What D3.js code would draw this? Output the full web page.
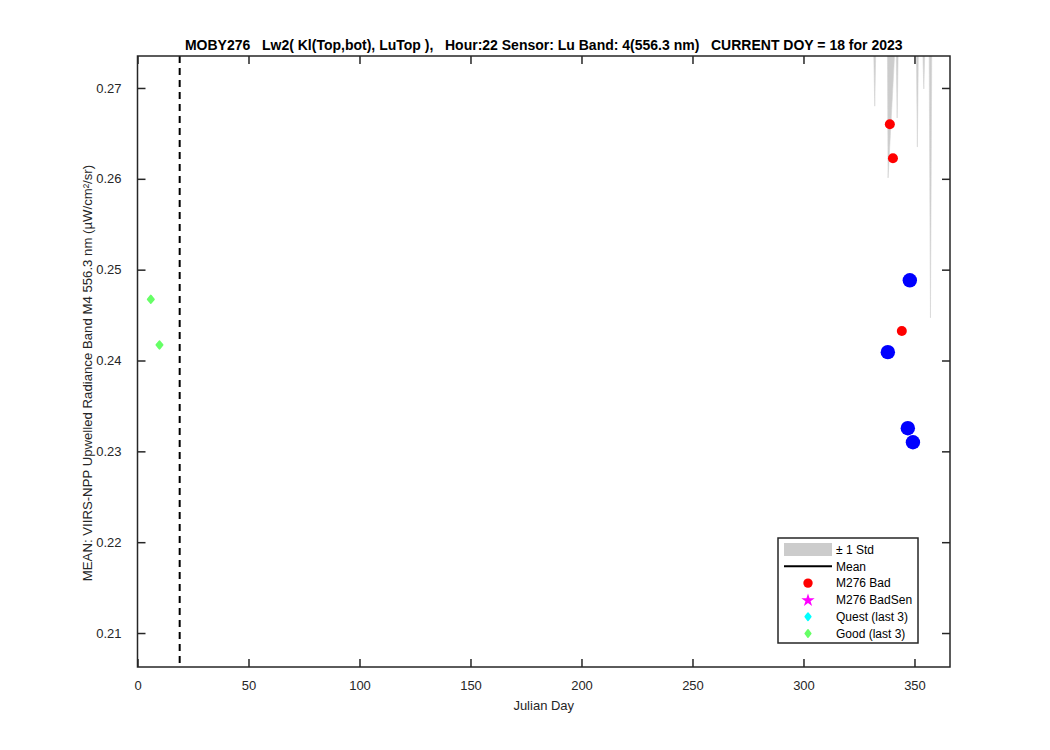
<!DOCTYPE html>
<html><head><meta charset="utf-8">
<script src="https://cdn.jsdelivr.net/npm/d3@7"></script>
<style>
body{margin:0;background:#fff;}
text{font-family:"Liberation Sans",Arial,Helvetica,sans-serif;}
</style>
</head><body>
<svg id="c" width="1050" height="750"></svg>
<script>
// ---------------- data ----------------
const xDomain = [0, 366];
const yDomain = [0.20626, 0.27352];
const xTicks = [0, 50, 100, 150, 200, 250, 300, 350];
const yTicks = [0.21, 0.22, 0.23, 0.24, 0.25, 0.26, 0.27];
const currentDoy = 19;

const badDays = [338.9, 340.3, 344.3];
const badVals = [0.2660, 0.26226, 0.24325];

const blueDays = [347.9, 338.0, 347.0, 349.3];
const blueVals = [0.24883, 0.24092, 0.23255, 0.23100];

const goodDays = [6.0, 9.9];
const goodVals = [0.24674, 0.24171];

// +/- 1 std band (lower edge visible, upper edge beyond the axes)
const stdTip   = [332.1, 338.1, 342.2, 351.3, 354.2, 357.2];
const stdLow   = [0.2680, 0.2601, 0.2667, 0.2635, 0.2699, 0.2447];
const stdLeft  = [331.2, 337.7, 341.4, 350.6, 353.1, 356.5];
const stdRight = [333.0, 342.4, 343.0, 352.0, 355.3, 357.9];
const stdHigh  = 0.28;

const titleText = "MOBY276   Lw2( Kl(Top,bot), LuTop ),   Hour:22 Sensor: Lu Band: 4(556.3 nm)   CURRENT DOY = 18 for 2023";
const xLabel = "Julian Day";
const yLabel = "MEAN: VIIRS-NPP Upwelled Radiance Band M4 556.3 nm (\u00b5W/cm\u00b2/sr)";
const legendLabels = ["\u00b1 1 Std", "Mean", "M276 Bad", "M276 BadSen", "Quest (last 3)", "Good (last 3)"];

// ---------------- layout ----------------
const L = 137.5, R = 950, T = 56, B = 667;
const axisColor = "#262626";
const svg = d3.select("#c");
const x = d3.scaleLinear().domain(xDomain).range([L, R]);
const y = d3.scaleLinear().domain(yDomain).range([B, T]);

svg.append("defs").append("clipPath").attr("id", "clip")
  .append("rect").attr("x", L).attr("y", T).attr("width", R - L).attr("height", B - T);

const plot = svg.append("g").attr("clip-path", "url(#clip)");

// std band spikes
const stdData = stdTip.map((d, i) => [[stdLeft[i], stdHigh], [d, stdLow[i]], [stdRight[i], stdHigh]]);
const line = d3.line().x(d => x(d[0])).y(d => y(d[1]));
plot.selectAll("path.std").data(stdData).join("path")
  .attr("class", "std")
  .attr("d", d => line(d) + "Z")
  .attr("fill", "#cccccc").attr("stroke", "#d4d4d4").attr("stroke-width", 0.6);

// current DOY dashed line
plot.append("line")
  .attr("x1", x(currentDoy)).attr("x2", x(currentDoy))
  .attr("y1", T).attr("y2", B)
  .attr("stroke", "#000").attr("stroke-width", 2).attr("stroke-dasharray", "7,5");

// diamond path helper
const diamond = (hw, hh) => `M0,${-hh}L${hw},0L0,${hh}L${-hw},0Z`;

// good points
plot.selectAll("path.good").data(goodDays.map((d, i) => [d, goodVals[i]])).join("path")
  .attr("class", "good")
  .attr("transform", d => `translate(${x(d[0])},${y(d[1])})`)
  .attr("d", diamond(3, 3.6))
  .attr("fill", "#66ff66").attr("stroke", "#66ff66").attr("stroke-width", 2).attr("stroke-linejoin", "round");

// bad points
plot.selectAll("circle.bad").data(badDays.map((d, i) => [d, badVals[i]])).join("circle")
  .attr("class", "bad")
  .attr("cx", d => x(d[0])).attr("cy", d => y(d[1])).attr("r", 5)
  .attr("fill", "#ff0000");

// blue points
plot.selectAll("circle.blue").data(blueDays.map((d, i) => [d, blueVals[i]])).join("circle")
  .attr("class", "blue")
  .attr("cx", d => x(d[0])).attr("cy", d => y(d[1])).attr("r", 7.2)
  .attr("fill", "#0000ff");

// ---------------- axes ----------------
const fmtY = d3.format(".2f");
const axB = svg.append("g").attr("transform", `translate(0,${B})`)
  .call(d3.axisBottom(x).tickValues(xTicks).tickSize(-8).tickPadding(14).tickSizeOuter(0));
const axL = svg.append("g").attr("transform", `translate(${L},0)`)
  .call(d3.axisLeft(y).tickValues(yTicks).tickFormat(fmtY).tickSize(-8).tickPadding(16).tickSizeOuter(0));
const axT = svg.append("g").attr("transform", `translate(0,${T})`)
  .call(d3.axisTop(x).tickValues(xTicks).tickFormat("").tickSize(-8).tickSizeOuter(0));
const axR = svg.append("g").attr("transform", `translate(${R},0)`)
  .call(d3.axisRight(y).tickValues(yTicks).tickFormat("").tickSize(-8).tickSizeOuter(0));
[axB, axL, axT, axR].forEach(a => {
  a.select(".domain").remove();
  a.selectAll(".tick line").attr("stroke", axisColor).attr("stroke-width", 1.5);
  a.selectAll(".tick text").attr("fill", axisColor).style("font-size", "13px")
    .style("font-family", '"Liberation Sans",Arial,Helvetica,sans-serif');
});

svg.append("rect").attr("x", L).attr("y", T).attr("width", R - L).attr("height", B - T)
  .attr("fill", "none").attr("stroke", axisColor).attr("stroke-width", 1.5);

// labels
svg.append("text").attr("x", (L + R) / 2).attr("y", 710).attr("text-anchor", "middle")
  .attr("fill", axisColor).style("font-size", "13px").text(xLabel);
svg.append("text").attr("transform", `translate(92,373) rotate(-90)`)
  .attr("text-anchor", "middle").attr("fill", axisColor).style("font-size", "13.2px").text(yLabel);
svg.append("text").attr("x", (L + R) / 2).attr("y", 50).attr("text-anchor", "middle")
  .attr("fill", "#000").style("font-size", "14px").style("font-weight", "bold")
  .style("white-space", "pre").attr("xml:space", "preserve").text(titleText);

// ---------------- legend ----------------
const lg = svg.append("g");
lg.append("rect").attr("x", 778).attr("y", 538).attr("width", 140).attr("height", 105)
  .attr("fill", "#fff").attr("stroke", axisColor).attr("stroke-width", 1.5);
const rowY = i => 549.5 + i * 16.8;
const ix = 808;
legendLabels.forEach((lab, i) => {
  lg.append("text").attr("x", 836).attr("y", rowY(i) + 4.2).attr("fill", "#000")
    .style("font-size", "12px").text(lab);
});
lg.append("rect").attr("x", 784).attr("y", rowY(0) - 6.5).attr("width", 48).attr("height", 13).attr("fill", "#cccccc");
lg.append("line").attr("x1", 784).attr("x2", 832).attr("y1", rowY(1)).attr("y2", rowY(1))
  .attr("stroke", "#000").attr("stroke-width", 2);
lg.append("circle").attr("cx", ix).attr("cy", rowY(2)).attr("r", 4.7).attr("fill", "#ff0000");
lg.append("path").attr("transform", `translate(${ix},${rowY(3) + 0.5})`)
  .attr("d", d3.symbol(d3.symbolStar, 55)()).attr("fill", "#ff00ff");
lg.append("path").attr("transform", `translate(${ix},${rowY(4)})`)
  .attr("d", diamond(2.6, 3.4)).attr("fill", "#00ffff").attr("stroke", "#00ffff")
  .attr("stroke-width", 2).attr("stroke-linejoin", "round");
lg.append("path").attr("transform", `translate(${ix},${rowY(5)})`)
  .attr("d", diamond(2.6, 3.4)).attr("fill", "#66ff66").attr("stroke", "#66ff66")
  .attr("stroke-width", 2).attr("stroke-linejoin", "round");
</script>
</body></html>
